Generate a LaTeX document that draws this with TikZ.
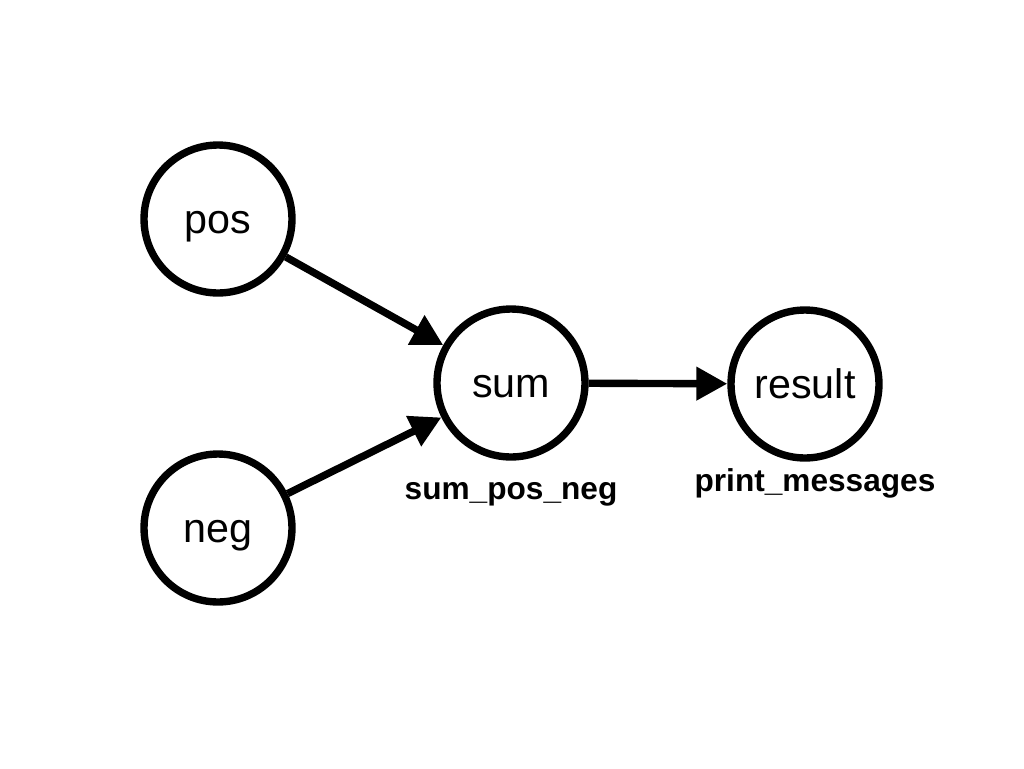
\documentclass[tikz,border=0pt]{standalone}
\usepackage{fontspec}
\setmainfont{Liberation Sans}
\usetikzlibrary{arrows.meta}

\tikzset{
  var/.style={circle, draw, line width=4.2pt, minimum size=2.96cm, inner sep=0pt, text height=0.56cm, text depth=0pt, font=\fontsize{23.5}{26}\selectfont},
  fn/.style={font=\bfseries\fontsize{18}{21}\selectfont, inner sep=0pt},
  flow/.style={line width=4.2pt, -{Triangle[length=0.62cm, width=0.64cm]}}
}

\begin{document}
\begin{tikzpicture}[x=0.02cm, y=-0.02cm]
    \useasboundingbox (0,0) rectangle (1024,768);

    % Draw the inputs
    \node[var] (pos) at (218,219) {pos};
    \node[var] (neg) at (218,528) {neg};

    % Draw the sum and the result
    \node[var] (sum) at (511,383) {sum};
    \node[var] (result) at (805,384) {result};

    % Label the functions
    \node[fn] (sumfn) at (511,494) {sum\_pos\_neg};
    \node[fn] (printfn) at (815,483) {print\_messages};

    % Draw the arrows
    \draw[flow] (pos) -- (sum);
    \draw[flow] (neg) -- (sum);
    \draw[flow] (sum) -- (result);
\end{tikzpicture}
\end{document}
